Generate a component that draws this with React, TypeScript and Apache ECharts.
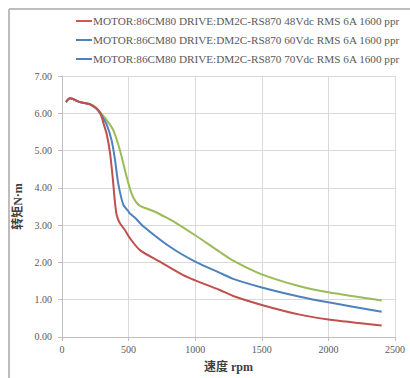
import React, { useEffect, useRef } from "react";
import * as echarts from "echarts";

const seriesNames = [
  "MOTOR:86CM80 DRIVE:DM2C-RS870 48Vdc RMS 6A 1600 ppr",
  "MOTOR:86CM80 DRIVE:DM2C-RS870 60Vdc RMS 6A 1600 ppr",
  "MOTOR:86CM80 DRIVE:DM2C-RS870 70Vdc RMS 6A 1600 ppr",
];

const lineColors = ["#c0504d", "#4f81bd", "#9bbb59"];
const legendColors = ["#d9534f", "#4f81bd", "#4f81bd"];

// speed (rpm), torque (N·m)
const curve48: [number, number][] = [
  [30, 6.3], [60, 6.4], [135, 6.3], [210, 6.24], [260, 6.12], [290, 5.98],
  [310, 5.75], [335, 5.45], [360, 4.95], [380, 4.3], [398, 3.6], [412, 3.25],
  [435, 3.05], [472, 2.87], [510, 2.65], [585, 2.33], [735, 2.02], [910, 1.66],
  [1000, 1.52], [1185, 1.26], [1285, 1.1], [1500, 0.86], [1785, 0.6],
  [2000, 0.47], [2400, 0.31],
];
const curve60: [number, number][] = [
  [30, 6.3], [60, 6.4], [135, 6.3], [210, 6.24], [260, 6.12], [290, 5.98],
  [335, 5.7], [372, 5.28], [398, 4.75], [422, 4.12], [460, 3.55], [497, 3.38],
  [510, 3.31], [548, 3.2], [610, 2.97], [810, 2.42], [1000, 2.02], [1185, 1.72],
  [1285, 1.56], [1500, 1.33], [1785, 1.08], [2000, 0.93], [2400, 0.68],
];
const curve70: [number, number][] = [
  [30, 6.3], [60, 6.4], [135, 6.3], [210, 6.25], [260, 6.14], [290, 6.02],
  [335, 5.82], [385, 5.55], [435, 5.01], [485, 4.3], [522, 3.85], [550, 3.65],
  [585, 3.52], [685, 3.38], [785, 3.2], [860, 3.05], [1000, 2.73], [1185, 2.28],
  [1285, 2.05], [1500, 1.68], [1785, 1.36], [2000, 1.2], [2400, 0.98],
];
const curves = [curve48, curve60, curve70];

const xTicks = { min: 0, max: 2500, interval: 500 };
const yTicks = { min: 0, max: 7, interval: 1 };

const serif = "'Liberation Serif', 'Times New Roman', serif";
const cjk = "'Liberation Serif', 'Noto Sans CJK SC', serif";

const legendGraphic = seriesNames.flatMap((n, i) => {
  const y = 21 + i * 19;
  return [
    {
      type: "line",
      shape: { x1: 76, y1: y, x2: 92, y2: y },
      style: { stroke: legendColors[i], lineWidth: 2 },
    },
    {
      type: "text",
      x: 93,
      y: y,
      style: {
        text: n,
        fill: "#595959",
        fontSize: 11.2,
        fontFamily: "'Liberation Serif', serif",
        verticalAlign: "middle",
        align: "left",
      },
    },
  ];
});

export default function App() {
  const ref = useRef<HTMLDivElement>(null);
  useEffect(() => {
    document.body.style.margin = "0";
    if (!ref.current) return;
    const chart = echarts.init(ref.current, null, { renderer: "svg" });
    chart.setOption({
      animation: false,
      backgroundColor: "#ffffff",
      textStyle: { fontFamily: serif },
      grid: { left: 62, right: 15, top: 76, bottom: 41 },
      xAxis: {
        type: "value",
        min: xTicks.min,
        max: xTicks.max,
        interval: xTicks.interval,
        name: "速度 rpm",
        nameLocation: "middle",
        nameGap: 24,
        nameTextStyle: {
          fontFamily: cjk,
          fontSize: 12,
          fontWeight: "bold",
          color: "#404040",
        },
        axisLine: { show: true, lineStyle: { color: "#bfbfbf", width: 1 } },
        axisTick: { show: true, length: 4, lineStyle: { color: "#bfbfbf" } },
        axisLabel: {
          fontFamily: serif,
          fontSize: 10,
          color: "#595959",
          margin: 8,
          formatter: (v: number) => String(v),
        },
        splitLine: { show: true, lineStyle: { color: "#d9d9d9", width: 1 } },
      },
      yAxis: {
        type: "value",
        min: yTicks.min,
        max: yTicks.max,
        interval: yTicks.interval,
        name: "转矩N·m",
        nameLocation: "middle",
        nameGap: 27,
        nameTextStyle: {
          fontFamily: cjk,
          fontSize: 12,
          fontWeight: "bold",
          color: "#404040",
        },
        axisLine: { show: true, lineStyle: { color: "#bfbfbf", width: 1 } },
        axisTick: { show: true, length: 4, lineStyle: { color: "#bfbfbf" } },
        axisLabel: {
          fontFamily: serif,
          fontSize: 10,
          color: "#595959",
          margin: 10,
          formatter: (v: number) => v.toFixed(2),
        },
        splitLine: { show: true, lineStyle: { color: "#d9d9d9", width: 1 } },
      },
      graphic: [
        {
          type: "line",
          shape: { x1: 9, y1: 9, x2: 410, y2: 9 },
          style: { stroke: "#bdbdbd", lineWidth: 2 },
        },
        {
          type: "line",
          shape: { x1: 9, y1: 9, x2: 9, y2: 378 },
          style: { stroke: "#bdbdbd", lineWidth: 2 },
        },
        ...legendGraphic,
      ],
      series: curves.map((c, i) => ({
        name: seriesNames[i],
        type: "line",
        data: c,
        smooth: 0.25,
        showSymbol: false,
        symbol: "none",
        color: lineColors[i],
        lineStyle: { color: lineColors[i], width: 2 },
        z: 3 - i,
      })),
    });
    return () => chart.dispose();
  }, []);
  return <div ref={ref} style={{ width: 410, height: 378 }} />;
}
